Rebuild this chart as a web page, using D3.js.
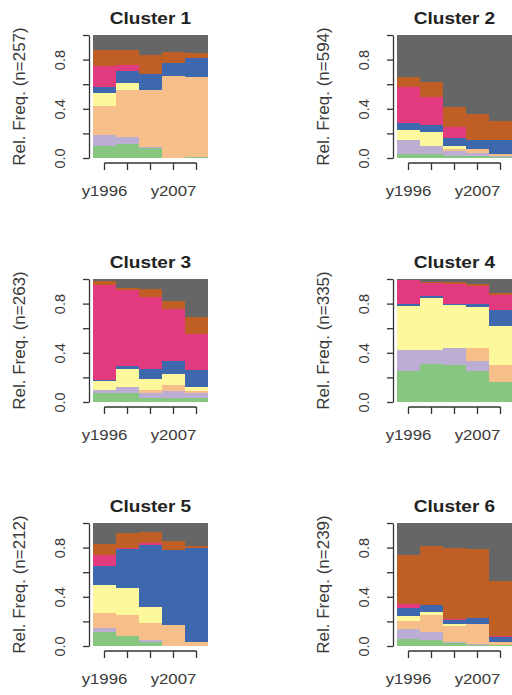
<!DOCTYPE html>
<html>
<head>
<meta charset="utf-8">
<script src="https://cdn.jsdelivr.net/npm/d3@7"></script>
<style>
  body { margin: 0; background: #fff; }
  svg text { font-family: "Liberation Sans", Arial, Helvetica, sans-serif; }
</style>
</head>
<body>
<div id="chart"></div>
<script>
// x categories (R hides the overlapping labels, only two are printed)
var years = ["y1996", "y2000", "y2003", "y2007", "y2011"];
var shownYears = ["y1996", "y2007"];

// stacked states, bottom to top (Accent palette)
var states = ["state1", "state2", "state3", "state4", "state5", "state6", "state7", "state8"];
var stateColors = ["#86c680", "#bcaed3", "#f6bf8a", "#fdf89c", "#3e68ae", "#e23a7e", "#bf5f25", "#666666"];

var clusterNames = ["Cluster 1", "Cluster 2", "Cluster 3", "Cluster 4", "Cluster 5", "Cluster 6"];
var clusterSizes = [257, 594, 263, 335, 212, 239];

var yTicks = [0, 0.2, 0.4, 0.6, 0.8, 1];
var yLabelTicks = [0, 0.4, 0.8];

// relative frequencies, one row per year, one value per state
var cluster1 = [
    [0.10, 0.09, 0.23, 0.11, 0.05, 0.17, 0.13, 0.12],
    [0.11, 0.06, 0.38, 0.06, 0.10, 0.05, 0.12, 0.12],
    [0.08, 0.01, 0.465, 0.00, 0.125, 0.00, 0.155, 0.165],
    [0.00, 0.00, 0.67, 0.00, 0.10, 0.00, 0.09, 0.14],
    [0.01, 0.00, 0.65, 0.00, 0.155, 0.00, 0.035, 0.15]
];
var cluster2 = [
    [0.03, 0.12, 0.00, 0.075, 0.06, 0.295, 0.08, 0.34],
    [0.03, 0.07, 0.00, 0.11, 0.06, 0.23, 0.12, 0.38],
    [0.02, 0.04, 0.01, 0.03, 0.065, 0.09, 0.16, 0.585],
    [0.02, 0.02, 0.03, 0.00, 0.08, 0.00, 0.21, 0.64],
    [0.01, 0.01, 0.015, 0.00, 0.11, 0.00, 0.155, 0.70]
];
var cluster3 = [
    [0.07, 0.03, 0.00, 0.07, 0.01, 0.77, 0.03, 0.02],
    [0.07, 0.05, 0.00, 0.15, 0.02, 0.62, 0.02, 0.07],
    [0.03, 0.04, 0.03, 0.085, 0.085, 0.58, 0.07, 0.08],
    [0.03, 0.06, 0.05, 0.09, 0.10, 0.425, 0.065, 0.18],
    [0.03, 0.04, 0.02, 0.035, 0.135, 0.29, 0.145, 0.305]
];
var cluster4 = [
    [0.25, 0.17, 0.00, 0.36, 0.015, 0.195, 0.005, 0.005],
    [0.31, 0.11, 0.00, 0.425, 0.02, 0.105, 0.005, 0.025],
    [0.30, 0.14, 0.00, 0.345, 0.015, 0.16, 0.015, 0.025],
    [0.255, 0.075, 0.11, 0.335, 0.025, 0.145, 0.015, 0.04],
    [0.16, 0.00, 0.14, 0.32, 0.13, 0.12, 0.02, 0.11]
];
var cluster5 = [
    [0.11, 0.035, 0.125, 0.23, 0.15, 0.09, 0.09, 0.17],
    [0.08, 0.00, 0.17, 0.225, 0.315, 0.01, 0.12, 0.08],
    [0.035, 0.015, 0.135, 0.135, 0.50, 0.02, 0.085, 0.075],
    [0.00, 0.00, 0.17, 0.00, 0.61, 0.00, 0.075, 0.145],
    [0.00, 0.00, 0.03, 0.00, 0.77, 0.00, 0.01, 0.19]
];
var cluster6 = [
    [0.06, 0.08, 0.065, 0.035, 0.065, 0.04, 0.395, 0.26],
    [0.05, 0.06, 0.145, 0.025, 0.055, 0.00, 0.475, 0.19],
    [0.025, 0.01, 0.125, 0.02, 0.035, 0.005, 0.58, 0.20],
    [0.01, 0.005, 0.165, 0.00, 0.045, 0.00, 0.56, 0.215],
    [0.005, 0.005, 0.025, 0.00, 0.04, 0.01, 0.445, 0.47]
];
var clusters = [cluster1, cluster2, cluster3, cluster4, cluster5, cluster6];

// layout
var width = 512, height = 695;
var colX = [89, 393];        // y axis line position per column
var rowY = [35, 279, 523];   // top of the 0..1 range per row
var plotH = 123;
var barW = 23;
var stretch = 1.12;          // the source picture is a bit wider than tall

var svg = d3.select('#chart')
    .append('svg')
    .attr('width', width)
    .attr('height', height);

function drawCluster(k) {
    var col = k % 2, row = Math.floor(k / 2);
    var axisX = colX[col];
    var top = rowY[row], bottom = top + plotH;

    var x = d3.scaleBand()
        .domain(years)
        .range([axisX + 4, axisX + 4 + years.length * barW])
        .padding(0);
    var y = d3.scaleLinear().domain([0, 1]).range([bottom, top]);

    var stacked = d3.stack()
        .keys(d3.range(states.length))
        .value(function(d, key) { return d[key]; })(clusters[k]);

    var g = svg.append('g').attr('class', 'cluster');

    g.selectAll('g.layer')
        .data(stacked)
        .enter()
        .append('g')
        .attr('class', 'layer')
        .attr('fill', function(d, i) { return stateColors[i]; })
        .selectAll('rect')
        .data(function(d) { return d; })
        .enter()
        .append('rect')
        .attr('shape-rendering', 'crispEdges')
        .attr('x', function(d, i) { return x(years[i]); })
        .attr('width', x.bandwidth())
        .attr('y', function(d) { return y(d[1]); })
        .attr('height', function(d) { return Math.max(0, y(d[0]) - y(d[1])); });

    // y axis
    var yAxis = g.append('g')
        .attr('transform', `translate(${axisX}, 0)`)
        .call(d3.axisLeft(y)
            .tickValues(yTicks)
            .tickSize(6)
            .tickSizeOuter(0)
            .tickFormat(function(v) { return yLabelTicks.indexOf(v) >= 0 ? d3.format('.1f')(v) : ''; }));
    yAxis.selectAll('path, line').attr('stroke', '#333').attr('stroke-width', 1.3);
    yAxis.selectAll('text')
        .attr('transform', 'rotate(-90)')
        .attr('x', 0)
        .attr('y', -24)
        .attr('dy', 0)
        .attr('text-anchor', 'middle')
        .attr('fill', '#3a3a3a')
        .style('font-size', '14.5px');

    // x axis: line only between the first and last tick, like R
    var xAxis = g.append('g')
        .attr('transform', `translate(0, ${bottom + 5})`)
        .call(d3.axisBottom(x)
            .tickSize(7)
            .tickSizeOuter(0)
            .tickFormat(function(v) { return shownYears.indexOf(v) >= 0 ? v : ''; }));
    xAxis.select('.domain').remove();
    xAxis.append('line')
        .attr('x1', x(years[0]) + x.bandwidth() / 2)
        .attr('x2', x(years[years.length - 1]) + x.bandwidth() / 2)
        .attr('y1', 0).attr('y2', 0);
    xAxis.selectAll('line').attr('stroke', '#333').attr('stroke-width', 1.3);
    xAxis.selectAll('text')
        .attr('y', 33)
        .attr('dy', 0)
        .attr('transform', `scale(${stretch}, 1)`)
        .attr('fill', '#3a3a3a')
        .style('font-size', '15px');

    // y label
    g.append('text')
        .attr('transform', `translate(${axisX - 64}, ${(top + bottom) / 2}) rotate(-90)`)
        .attr('text-anchor', 'middle')
        .attr('fill', '#3a3a3a')
        .style('font-size', '17px')
        .text(`Rel. Freq. (n=${clusterSizes[k]})`);

    // title
    var cx = axisX + (years.length * barW + 8) / 2;
    g.append('text')
        .attr('transform', `translate(${cx}, ${top - 11}) scale(${stretch}, 1)`)
        .attr('text-anchor', 'middle')
        .attr('fill', '#222')
        .style('font-size', '17px')
        .style('font-weight', 700)
        .text(clusterNames[k]);
}

clusters.forEach(function(c, k) { drawCluster(k); });
</script>
</body>
</html>
